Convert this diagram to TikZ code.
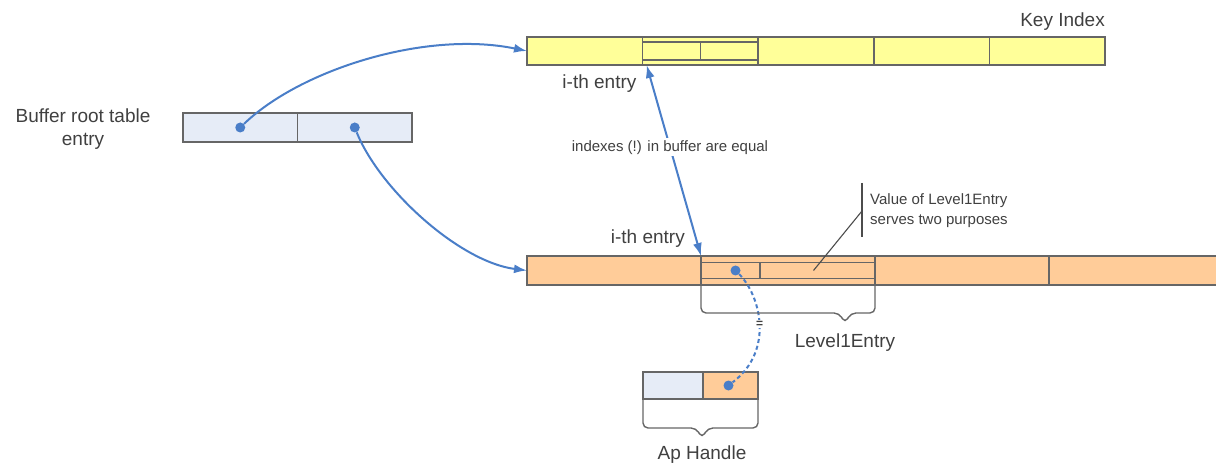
\documentclass[tikz,border=0pt]{standalone}
\usepackage{fontspec}
\setmainfont{Liberation Sans}
\usetikzlibrary{positioning}
\usetikzlibrary{arrows.meta}

\definecolor{keyyellow}{HTML}{FFFF99}
\definecolor{lvlorange}{HTML}{FFCC99}
\definecolor{rootblue}{HTML}{E6ECF7}
\definecolor{ptrblue}{HTML}{4A7EC8}
\definecolor{textgray}{HTML}{404040}

\begin{document}
\begin{tikzpicture}[x=1pt, y=-1pt, node distance=0pt, >={Latex[length=13pt,width=9pt]},
	cell/.style={rectangle, draw=black!60, line width=1.5pt, inner sep=0pt, outer sep=0pt, minimum height=28pt},
	keycell/.style={cell, fill=keyyellow, minimum width=115.6pt},
	keysub/.style={cell, minimum width=57.8pt, minimum height=17.6pt},
	lvlcell/.style={cell, fill=lvlorange, minimum width=174pt, minimum height=29pt},
	lvlsub/.style={cell, minimum height=16pt},
	rootcell/.style={cell, fill=rootblue, minimum width=114.5pt, minimum height=29pt},
	lbl/.style={text=textgray, inner sep=0pt, font=\fontsize{19}{23}\selectfont},
	note/.style={text=textgray, inner sep=0pt, font=\fontsize{15}{20}\selectfont},
	dot/.style={circle, fill=ptrblue, inner sep=0pt, minimum size=10pt},
	ptr/.style={draw=ptrblue, line width=2pt, ->},
	brace/.style={draw=black!60, line width=1.4pt, rounded corners=5pt}]

\useasboundingbox (0,0) rectangle (1216,465);

% key index
\node[keycell, anchor=west] (k1) at (527,51) {};
\node[keycell, right=of k1] (k2) {};
\node[keycell, right=of k2] (k3) {};
\node[keycell, right=of k3] (k4) {};
\node[keycell, right=of k4] (k5) {};
\node[keysub, anchor=west] (ks1) at (k2.west) {};
\node[keysub, right=of ks1] (ks2) {};
\node[lbl, anchor=south east] (keylbl) at ([yshift=6pt]k5.north east) {Key Index};

% level 1 buffer
\node[lvlcell, anchor=west] (o1) at (527,270.5) {};
\node[lvlcell, right=of o1] (o2) {};
\node[lvlcell, right=of o2] (o3) {};
\node[lvlcell, right=of o3] (o4) {};
\node[lvlsub, minimum width=59pt, anchor=west] (os1) at (o2.west) {};
\node[lvlsub, minimum width=115pt, right=of os1] (os2) {};

% buffer root table entry
\node[rootcell, anchor=west] (r1) at (183,127.5) {};
\node[rootcell, right=of r1] (r2) {};
\node[lbl, align=center] (rootlbl) at (83,129.5) {Buffer root table\\entry};

% ap handle
\node[cell, fill=rootblue, minimum width=60pt, minimum height=27pt, anchor=west] (a1) at (643,385.5) {};
\node[cell, fill=lvlorange, minimum width=55pt, minimum height=27pt, right=of a1] (a2) {};

\node[dot] (rdot1) at (r1.center) {};
\node[dot] (rdot2) at (r2.center) {};
\node[dot] (odot) at ([xshift=5pt]os1.center) {};
\node[dot] (adot) at ([xshift=-2pt]a2.center) {};

% pointers
\draw[ptr] (rdot1) .. controls (300,70) and (425,30) .. (k1.west);
\draw[ptr] (rdot2) .. controls (380,190) and (460,262) .. (o1.west);
\draw[ptr, <->] ([xshift=4pt]k2.south west) -- (o2.north west)
	node[note, fill=white, inner sep=2pt, pos=0.43] {indexes (!) in buffer are equal};
\draw[ptrblue, line width=2pt, dash pattern=on 4pt off 3pt] (odot) .. controls (760,295) and (775,350) .. (adot)
	node[pos=0.5, fill=white, inner sep=1pt, text=black!75, font=\bfseries\fontsize{12}{12}\selectfont] {=};

\node[lbl, anchor=north east] (ith1) at ([xshift=-6pt, yshift=-10pt]k2.south west) {i-th entry};
\node[lbl, anchor=base east] (ith2) at ([xshift=-16pt, yshift=12pt]o2.north west) {i-th entry};

% callout
\node[note, anchor=west, align=left] (vallbl) at (870,211) {Value of Level1Entry\\serves two purposes};
\coordinate (callout) at ([xshift=-8pt]vallbl.west);
\draw[black!70, line width=1.1pt] ([yshift=28pt]callout) -- ([yshift=-26pt]callout);
\draw[black!70, line width=1.1pt] (callout) -- ([xshift=-4pt]os2.center);

% braces
\draw[brace] (o2.south west) |- (839,313) -- (845,323) coordinate (l1tip) -- (851,313) -| (o2.south east);
\node[lbl, anchor=north] (l1lbl) at ([yshift=-11pt]l1tip) {Level1Entry};
\draw[brace] (a1.south west) |- (696,428) -- (702,438) coordinate (aptip) -- (708,428) -| (a2.south east);
\node[lbl, anchor=north] (aplbl) at ([yshift=-8pt]aptip) {Ap Handle};
\end{tikzpicture}
\end{document}
